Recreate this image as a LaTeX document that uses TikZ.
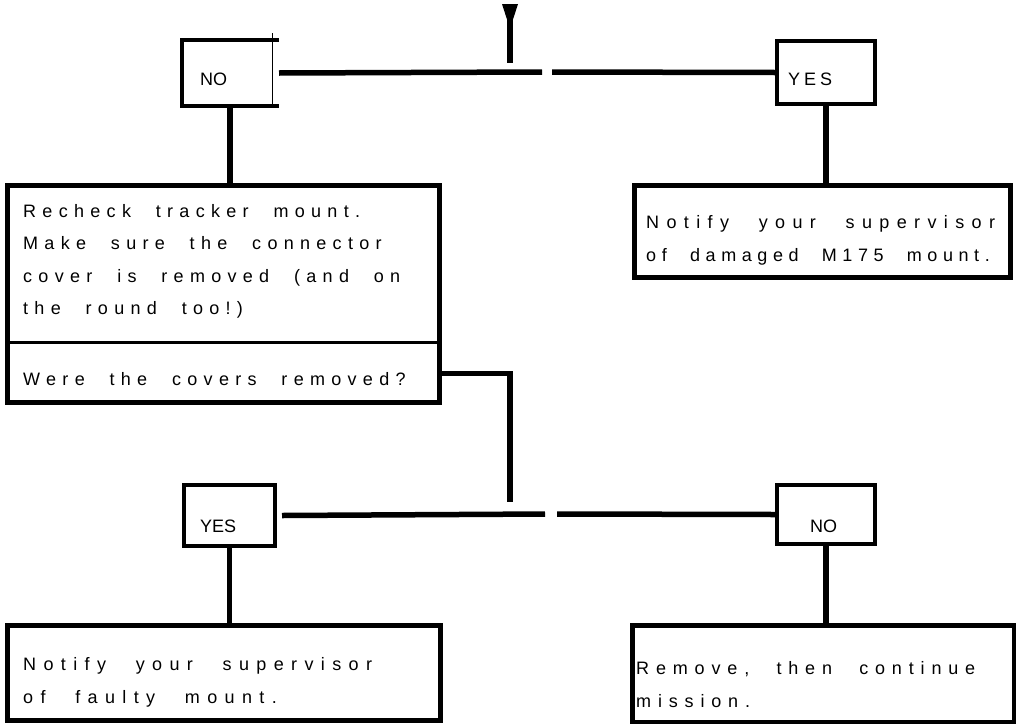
\documentclass[tikz,border=0pt]{standalone}
\usepackage{fontspec}
\setmainfont{Liberation Sans}
\newfontfamily\spacedfont[LetterSpace=35,WordSpace=2.2]{Liberation Sans}
\newfontfamily\widefont[LetterSpace=41,WordSpace=2.4]{Liberation Sans}
\newfontfamily\midfont[LetterSpace=38,WordSpace=2.3]{Liberation Sans}
\newfontfamily\narrowfont[LetterSpace=31,WordSpace=2.2]{Liberation Sans}
\usetikzlibrary{positioning}

\tikzset{
  box/.style={draw, line width=4.5pt, inner sep=0pt, anchor=north west},
  tag/.style={box, line width=4pt},
  link/.style={line width=5.5pt},
  boxtext/.style={font=\spacedfont\fontsize{18}{32.5}\selectfont, align=left, inner sep=0pt, anchor=base west},
  widetext/.style={boxtext, font=\widefont\fontsize{18}{32.5}\selectfont},
  tagtext/.style={font=\fontsize{18}{20}\selectfont, inner sep=0pt, anchor=base west},
}

\begin{document}
\begin{tikzpicture}[x=1pt,y=-1pt]
  \useasboundingbox (0,0) rectangle (1016,723);

  % entry from above
  \coordinate (entryTop) at (510,14);
  \coordinate (entryEnd) at (510,63);
  \fill (502,4) -- (518,4) -- (512.5,21) -- (507.5,21) -- cycle;
  \draw[link] (entryTop) -- (entryEnd);

  % first decision
  \node[tag, draw=none, minimum width=86pt, minimum height=62pt] (noA) at (182,40) {};
  \draw[line width=4pt] ([xshift=7pt]noA.north east) -- (noA.north west) -- (noA.south west) -- ([xshift=7pt]noA.south east);
  \draw[line width=1pt] ([yshift=7pt]noA.north east) -- (noA.south east);
  \node[tagtext] (noAText) at ([shift={(18pt,21pt)}]noA.south west) {NO};

  \node[tag, minimum width=98pt, minimum height=63pt] (yesA) at (775,39) {};
  \node[tagtext, font=\spacedfont\fontsize{18}{20}\selectfont] (yesAText) at ([shift={(13pt,21pt)}]yesA.south west) {Y\hspace{4pt}E\hspace{4pt}S};

  \coordinate (gapA) at (547,72);
  \draw[link] ([xshift=7pt]noA.east) -- ([xshift=-5pt]gapA);
  \draw[link] ([xshift=5pt]gapA) -- (yesA.west);

  % actions after first decision
  \node[box, minimum width=432pt, minimum height=217pt] (recheck) at (5,183) {};
  \node[box, draw=none, minimum width=432pt, minimum height=58pt, anchor=south west] (question) at (recheck.south west) {};
  \draw[line width=3pt] (question.north west) -- (question.north east);
  \node[boxtext] (recheckText) at ([shift={(18pt,-131.5pt)}]recheck.north west)
    {Recheck tracker mount.\\Make sure the connector\\cover is removed (and on\\the round too!)};
  \node[boxtext] (questionText) at ([shift={(18pt,-43pt)}]question.north west)
    {Were the covers removed?};

  \node[box, minimum width=376pt, minimum height=92pt] (notifyA) at (632,183) {};
  \node[boxtext] (notifyAText) at ([shift={(14pt,-78pt)}]notifyA.north west)
    {{\widefont Notify your supervisor}\\{\narrowfont of damaged M175 mount.}};

  \draw[link] ([xshift=3pt]noA.south) -- ([xshift=3pt]noA.south |- recheck.north);
  \draw[link] (yesA.south) -- (yesA.south |- notifyA.north);

  % second decision
  \coordinate (joinB) at (510,502);
  \draw[link] (question.east) -| (joinB);

  \node[tag, minimum width=91pt, minimum height=61pt] (yesB) at (182,483) {};
  \node[tagtext] (yesBText) at ([shift={(18pt,16pt)}]yesB.south west) {YES};

  \node[tag, minimum width=98pt, minimum height=59pt] (noB) at (775,483) {};
  \node[tagtext] (noBText) at ([shift={(35pt,14pt)}]noB.south west) {NO};

  \coordinate (gapB) at (551,514);
  \draw[link] ([xshift=5pt]yesB.east) -- ([xshift=-6pt]gapB);
  \draw[link] ([xshift=6pt]gapB) -- (noB.west);

  % final actions
  \node[box, minimum width=433pt, minimum height=95pt] (notifyB) at (5,623) {};
  \node[widetext] (notifyBText) at ([shift={(18pt,-80pt)}]notifyB.north west)
    {Notify your supervisor\\of faulty mount.};

  \node[box, minimum width=382pt, minimum height=97pt] (removeB) at (630,623) {};
  \node[boxtext, font=\midfont\fontsize{18}{32.5}\selectfont] (removeBText) at ([shift={(6pt,-84pt)}]removeB.north west)
    {Remove, then continue\\mission.};

  \draw[link] (yesB.south) -- (yesB.south |- notifyB.north);
  \draw[link] (noB.south) -- (noB.south |- removeB.north);
\end{tikzpicture}
\end{document}
